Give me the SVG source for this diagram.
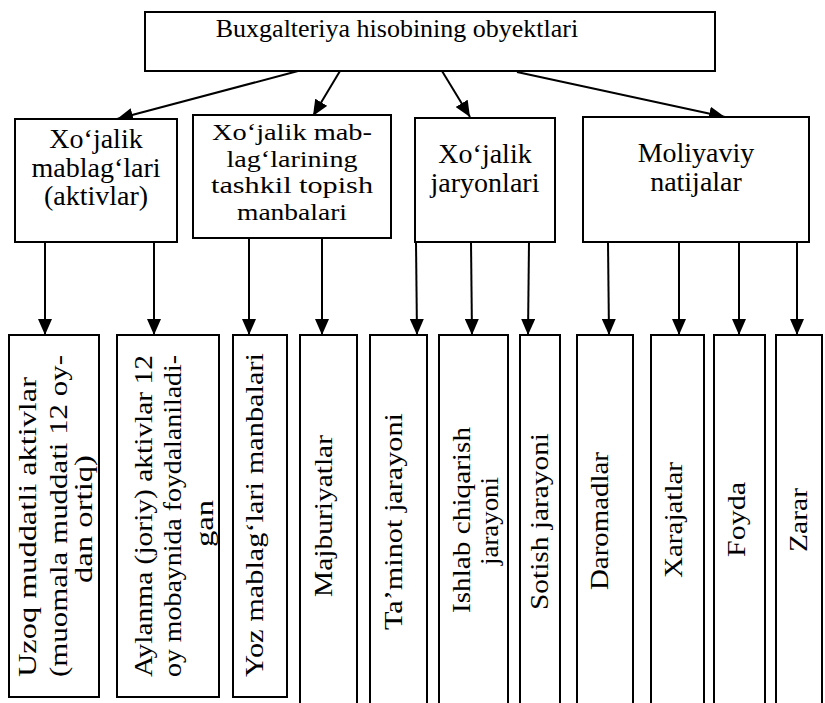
<svg xmlns="http://www.w3.org/2000/svg" width="825" height="703" viewBox="0 0 825 703">
<style>
  .box { fill: #ffffff; stroke: #000000; stroke-width: 2; }
  .t { font-family: "Liberation Serif", "Times New Roman", serif; fill: #000000; }
  .h { font-size: 28px; text-anchor: middle; }
  .h2 { font-size: 23.5px; text-anchor: middle; }
  .v { font-size: 26px; }
  .c { fill: none; stroke: #000000; stroke-width: 2; marker-end: url(#ah); }
</style>
<defs>
  <marker id="ah" viewBox="0 0 16 14" refX="16" refY="7" markerWidth="16" markerHeight="14" markerUnits="userSpaceOnUse" orient="auto">
    <path d="M0,0 L16,7 L0,14 Z" fill="#000000"/>
  </marker>
</defs>
<rect width="825" height="703" fill="#ffffff"/>

<g id="connectors">
  <line class="c" x1="298" y1="71" x2="117" y2="119"/>
  <line class="c" x1="340" y1="71" x2="313" y2="116"/>
  <line class="c" x1="442" y1="71" x2="470" y2="117"/>
  <line class="c" x1="517" y1="72" x2="725" y2="117"/>
  <line class="c" x1="45" y1="242" x2="45" y2="335"/>
  <line class="c" x1="154" y1="242" x2="154" y2="335"/>
  <line class="c" x1="249" y1="238" x2="249" y2="335"/>
  <line class="c" x1="322" y1="238" x2="322" y2="335"/>
  <line class="c" x1="416" y1="242" x2="417" y2="335"/>
  <line class="c" x1="471" y1="242" x2="472" y2="335"/>
  <line class="c" x1="529" y1="242" x2="528" y2="335"/>
  <line class="c" x1="608" y1="242" x2="609" y2="335"/>
  <line class="c" x1="679" y1="242" x2="679" y2="335"/>
  <line class="c" x1="739" y1="242" x2="739" y2="335"/>
  <line class="c" x1="797" y1="242" x2="797" y2="335"/>
</g>

<g id="root">
  <rect class="box" x="145" y="12" width="570" height="59"/>
  <text class="t" x="397" y="37" font-size="26" text-anchor="middle">Buxgalteriya hisobining obyektlari</text>
</g>

<g id="n-aktivlar">
  <rect class="box" x="15" y="119" width="162" height="123"/>
  <text class="t h" x="96" y="148">Xo‘jalik</text>
  <text class="t h" x="96" y="177">mablag‘lari</text>
  <text class="t h" x="96" y="205">(aktivlar)</text>
</g>

<g id="n-manbalar">
  <rect class="box" x="193" y="115" width="198" height="123"/>
  <text class="t h2" x="292" y="140" textLength="160" lengthAdjust="spacingAndGlyphs">Xo‘jalik mab-</text>
  <text class="t h2" x="292" y="166.5" textLength="131" lengthAdjust="spacingAndGlyphs">lag‘larining</text>
  <text class="t h2" x="292" y="193" textLength="162" lengthAdjust="spacingAndGlyphs">tashkil topish</text>
  <text class="t h2" x="292" y="219.5" textLength="110" lengthAdjust="spacingAndGlyphs">manbalari</text>
</g>

<g id="n-jarayonlar">
  <rect class="box" x="415" y="118" width="140" height="124"/>
  <text class="t h" x="485" y="163">Xo‘jalik</text>
  <text class="t h" x="485" y="192">jaryonlari</text>
</g>

<g id="n-natijalar">
  <rect class="box" x="583" y="117" width="226" height="125"/>
  <text class="t h" x="696" y="162">Moliyaviy</text>
  <text class="t h" x="696" y="191">natijalar</text>
</g>

<g id="n-uzoq">
  <rect class="box" x="9" y="335" width="90" height="362"/>
  <text class="t v" transform="translate(36,677) rotate(-90)" textLength="300" lengthAdjust="spacingAndGlyphs">Uzoq muddatli aktivlar</text>
  <text class="t v" transform="translate(67,677) rotate(-90)" textLength="322" lengthAdjust="spacingAndGlyphs">(muomala muddati 12 oy-</text>
  <text class="t v" transform="translate(92,583) rotate(-90)" textLength="128" lengthAdjust="spacingAndGlyphs">dan ortiq)</text>
</g>

<g id="n-aylanma">
  <rect class="box" x="117" y="335" width="102" height="362"/>
  <text class="t v" transform="translate(152,677) rotate(-90)" textLength="322" lengthAdjust="spacingAndGlyphs">Aylanma (joriy) aktivlar 12</text>
  <text class="t v" transform="translate(181,677) rotate(-90)" textLength="322" lengthAdjust="spacingAndGlyphs">oy mobaynida foydalaniladi-</text>
  <text class="t v" transform="translate(213,547) rotate(-90)" textLength="47" lengthAdjust="spacingAndGlyphs">gan</text>
</g>

<g id="n-oz-mablag">
  <rect class="box" x="233" y="335" width="54" height="362"/>
  <text class="t v" transform="translate(263,677) rotate(-90)" textLength="324" lengthAdjust="spacingAndGlyphs">Yoz mablag‘lari manbalari</text>
</g>

<g id="n-majburiyatlar">
  <rect class="box" x="300" y="335" width="57" height="380"/>
  <text class="t v" transform="translate(332,597) rotate(-90)" textLength="162" lengthAdjust="spacingAndGlyphs">Majburiyatlar</text>
</g>

<g id="n-taminot">
  <rect class="box" x="370" y="335" width="57" height="380"/>
  <text class="t v" transform="translate(402,630) rotate(-90)" textLength="217" lengthAdjust="spacingAndGlyphs">Ta’minot jarayoni</text>
</g>

<g id="n-ishlab">
  <rect class="box" x="439" y="335" width="69" height="380"/>
  <text class="t v" transform="translate(470,613) rotate(-90)" textLength="186" lengthAdjust="spacingAndGlyphs">Ishlab chiqarish</text>
  <text class="t v" transform="translate(498,565) rotate(-90)" textLength="88" lengthAdjust="spacingAndGlyphs">jarayoni</text>
</g>

<g id="n-sotish">
  <rect class="box" x="520" y="335" width="40" height="380"/>
  <text class="t v" transform="translate(548,610) rotate(-90)" textLength="177" lengthAdjust="spacingAndGlyphs">Sotish jarayoni</text>
</g>

<g id="n-daromadlar">
  <rect class="box" x="577" y="335" width="56" height="380"/>
  <text class="t v" transform="translate(608,590) rotate(-90)" textLength="138" lengthAdjust="spacingAndGlyphs">Daromadlar</text>
</g>

<g id="n-xarajatlar">
  <rect class="box" x="651" y="335" width="53" height="380"/>
  <text class="t v" transform="translate(682,578) rotate(-90)" textLength="116" lengthAdjust="spacingAndGlyphs">Xarajatlar</text>
</g>

<g id="n-foyda">
  <rect class="box" x="714" y="335" width="51" height="380"/>
  <text class="t v" transform="translate(745,557) rotate(-90)" textLength="75" lengthAdjust="spacingAndGlyphs">Foyda</text>
</g>

<g id="n-zarar">
  <rect class="box" x="776" y="335" width="46" height="380"/>
  <text class="t v" transform="translate(807,552) rotate(-90)" textLength="64" lengthAdjust="spacingAndGlyphs">Zarar</text>
</g>
</svg>
